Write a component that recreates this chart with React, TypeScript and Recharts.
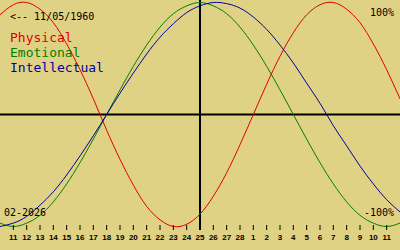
import React from "react";
import { LineChart, Line, XAxis, YAxis, ReferenceLine } from "recharts";

// Day index 0..30 (Feb 10 2026 .. Mar 12 2026), centre day 15 = Feb 25
const dayIndex = [0, 1, 2, 3, 4, 5, 6, 7, 8, 9, 10, 11, 12, 13, 14, 15, 16, 17, 18, 19, 20, 21, 22, 23, 24, 25, 26, 27, 28, 29, 30];
const tickDays = [1, 2, 3, 4, 5, 6, 7, 8, 9, 10, 11, 12, 13, 14, 15, 16, 17, 18, 19, 20, 21, 22, 23, 24, 25, 26, 27, 28, 29];
const tickLabels = ["11", "12", "13", "14", "15", "16", "17", "18", "19", "20", "21", "22", "23", "24", "25", "26", "27", "28", "1", "2", "3", "4", "5", "6", "7", "8", "9", "10", "11"];

const physical = [0.89, 0.98, 1.0, 0.94, 0.82, 0.63, 0.4, 0.14, -0.14, -0.4, -0.63, -0.82, -0.94, -1.0, -0.98, -0.89, -0.73, -0.52, -0.27, 0, 0.27, 0.52, 0.73, 0.89, 0.98, 1.0, 0.94, 0.82, 0.63, 0.4, 0.14];
const emotional = [-0.97, -1.0, -0.97, -0.9, -0.78, -0.62, -0.43, -0.22, 0, 0.22, 0.43, 0.62, 0.78, 0.9, 0.97, 1.0, 0.97, 0.9, 0.78, 0.62, 0.43, 0.22, 0, -0.22, -0.43, -0.62, -0.78, -0.9, -0.97, -1.0, -0.97];
const intellectual = [-1.0, -0.97, -0.91, -0.81, -0.69, -0.54, -0.37, -0.19, 0, 0.19, 0.37, 0.54, 0.69, 0.81, 0.91, 0.97, 1.0, 0.99, 0.95, 0.87, 0.76, 0.62, 0.46, 0.28, 0.1, -0.1, -0.28, -0.46, -0.62, -0.76, -0.87];

const centreDay = 15;
const birthLabel = "<-- 11/05/1960";
const monthLabel = "02-2026";
const seriesNames = ["Physical", "Emotional", "Intellectual"];
const colors = ["#e00000", "#008000", "#0000a0"];

const data = dayIndex.map((d, k) => ({
  d,
  physical: physical[k],
  emotional: emotional[k],
  intellectual: intellectual[k],
}));

const mono = "'DejaVu Sans Mono', monospace";

function DayTick(props: any) {
  const { x, y, payload } = props;
  const label = tickLabels[tickDays.indexOf(payload.value)];
  return (
    <g>
      <line x1={x} x2={x} y1={y - 5} y2={y} stroke="#000" strokeWidth={1} />
      <text x={x} y={y + 10} textAnchor="middle" fontFamily="'Liberation Sans', Arial, sans-serif" fontWeight="bold" fontSize={8} fill="#000">
        {label}
      </text>
    </g>
  );
}

export default function App() {
  return (
    <div style={{ position: "absolute", left: 0, top: 0, width: 400, height: 250, background: "#e0d284", overflow: "hidden" }}>
      <LineChart width={400} height={250} data={data} margin={{ top: 0, right: 0, bottom: 0, left: 0 }}>
        <XAxis
          dataKey="d"
          type="number"
          domain={[0, 30]}
          ticks={tickDays}
          interval={0}
          height={20}
          axisLine={false}
          tickLine={false}
          tickSize={0}
          tickMargin={0}
          tick={<DayTick />}
        />
        <YAxis hide domain={[-1.03125, 1.0223]} allowDataOverflow />
        <ReferenceLine y={0} stroke="#000" strokeWidth={2} />
        <ReferenceLine x={centreDay} stroke="#000" strokeWidth={2} />
        <Line type="natural" dataKey="physical" stroke={colors[0]} strokeWidth={1} dot={false} activeDot={false} isAnimationActive={false} />
        <Line type="natural" dataKey="emotional" stroke={colors[1]} strokeWidth={1} dot={false} activeDot={false} isAnimationActive={false} />
        <Line type="natural" dataKey="intellectual" stroke={colors[2]} strokeWidth={1} dot={false} activeDot={false} isAnimationActive={false} />
      </LineChart>
      <svg width={400} height={250} style={{ position: "absolute", left: 0, top: 0, pointerEvents: "none" }}>
        <text x={10} y={20} fontFamily={mono} fontSize={10} fill="#000">{birthLabel}</text>
        {seriesNames.map((n, k) => (
          <text key={n} x={10} y={42 + k * 15} fontFamily={mono} fontSize={13} fill={colors[k]}>{n}</text>
        ))}
        <text x={394} y={16} textAnchor="end" fontFamily={mono} fontSize={10} fill="#000">100%</text>
        <text x={394} y={216} textAnchor="end" fontFamily={mono} fontSize={10} fill="#000">-100%</text>
        <text x={4} y={216} fontFamily={mono} fontSize={10} fill="#000">{monthLabel}</text>
      </svg>
    </div>
  );
}
